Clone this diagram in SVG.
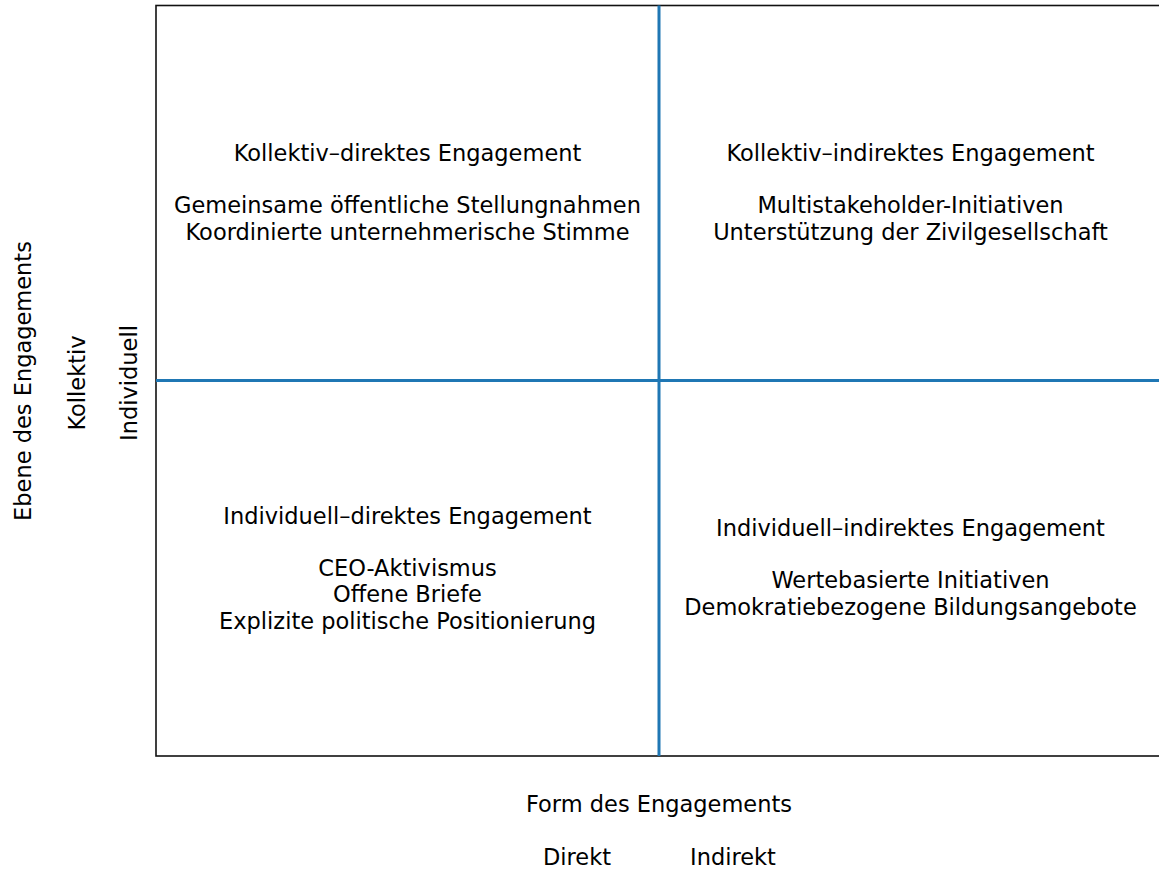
<svg xmlns="http://www.w3.org/2000/svg" width="1159" height="869" viewBox="0 0 1159 869">
<style>
  text { font-family: "DejaVu Sans", "Liberation Sans", sans-serif; font-size: 22.5px; fill: #000; text-anchor: middle; }
  .frame { fill: none; stroke: #111; stroke-width: 1.6; }
  .divider { stroke: #1f77b4; stroke-width: 3; fill: none; }
</style>
<rect width="1159" height="869" fill="#fff"/>
<g id="frame">
  <rect class="frame" x="156" y="5.5" width="1006" height="750.5"/>
</g>
<g id="connectors">
  <line class="divider" x1="659" y1="5.5" x2="659" y2="756"/>
  <line class="divider" x1="156" y1="380.5" x2="1162" y2="380.5"/>
</g>
<g id="q-kollektiv-direkt">
  <text x="407.5" y="161">Kollektiv–direktes Engagement</text>
  <text x="407.5" y="213.4">Gemeinsame öffentliche Stellungnahmen</text>
  <text x="407.5" y="239.8">Koordinierte unternehmerische Stimme</text>
</g>
<g id="q-kollektiv-indirekt">
  <text x="910.5" y="161">Kollektiv–indirektes Engagement</text>
  <text x="910.5" y="213.4">Multistakeholder-Initiativen</text>
  <text x="910.5" y="239.8">Unterstützung der Zivilgesellschaft</text>
</g>
<g id="q-individuell-direkt">
  <text x="407.5" y="523.5">Individuell–direktes Engagement</text>
  <text x="407.5" y="576">CEO-Aktivismus</text>
  <text x="407.5" y="602.3">Offene Briefe</text>
  <text x="407.5" y="628.6">Explizite politische Positionierung</text>
</g>
<g id="q-individuell-indirekt">
  <text x="910.5" y="536">Individuell–indirektes Engagement</text>
  <text x="910.5" y="588.3">Wertebasierte Initiativen</text>
  <text x="910.5" y="614.6">Demokratiebezogene Bildungsangebote</text>
</g>
<g id="x-axis">
  <text x="659" y="812">Form des Engagements</text>
  <text x="577" y="865">Direkt</text>
  <text x="733" y="865">Indirekt</text>
</g>
<g id="y-axis">
  <text transform="translate(30.5,381) rotate(-90)">Ebene des Engagements</text>
  <text transform="translate(85,383) rotate(-90)">Kollektiv</text>
  <text transform="translate(137,383) rotate(-90)">Individuell</text>
</g>
</svg>
